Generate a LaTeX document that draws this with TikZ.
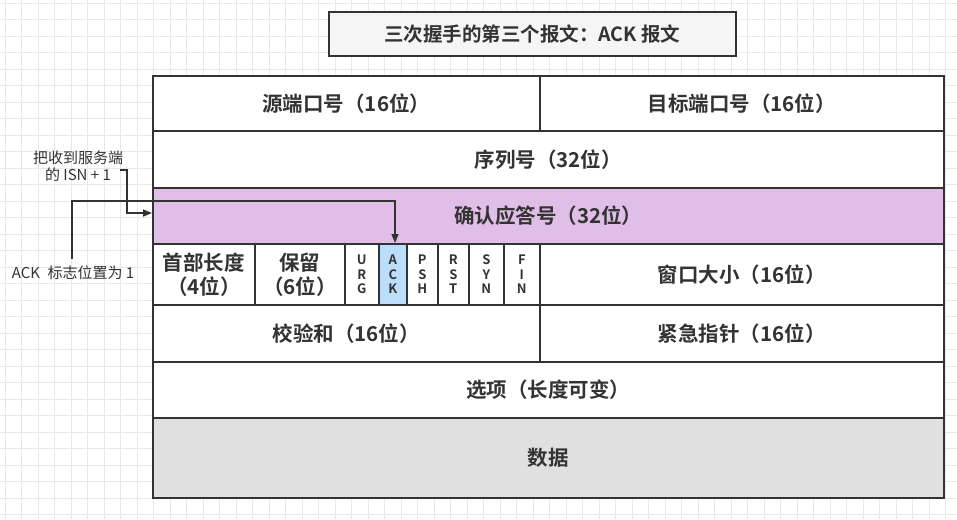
\documentclass[tikz,border=0pt]{standalone}
\usepackage{fontspec}
\setmainfont{Noto Sans CJK SC}[BoldFont={* Bold}]
\usetikzlibrary{arrows.meta}
\definecolor{pur}{HTML}{E1BEE7}
\definecolor{blu}{HTML}{BBDEFB}
\definecolor{dat}{HTML}{E0E0E0}
\definecolor{ttl}{HTML}{F5F5F5}
\definecolor{ink}{HTML}{333333}
\begin{document}
\begin{tikzpicture}[x=1pt,y=-1pt,
 cell/.style={draw=ink,line width=1.6pt,font=\bfseries\fontsize{20.5}{24}\selectfont,text=ink},
 flag/.style={draw=ink,line width=1.6pt,font=\bfseries\fontsize{13}{14.5}\selectfont,text=ink,align=center},
 note/.style={font=\fontsize{15}{17}\selectfont,text=ink,align=center},
 conn/.style={draw=ink,line width=1.6pt,-{Triangle[length=9pt,width=7pt]}}]
\useasboundingbox (0,0) rectangle (957,519);
\fill[white] (0,0) rectangle (957,519);
\foreach \i in {0,...,58} {\draw[black!9] (\i*16.5+5,0) -- (\i*16.5+5,519);}
\foreach \i in {0,...,31} {\draw[black!9] (0,\i*16.5+3) -- (957,\i*16.5+3);}
% title
\node[cell,fill=ttl,minimum width=407,minimum height=44,anchor=north west,font=\bfseries\fontsize{19.5}{22}\selectfont] (title) at (328,11) {三次握手的第三个报文：ACK 报文};
\def\cellat#1#2#3#4#5#6{\node[cell,fill=#6,minimum width=#3-#1,minimum height=#4-#2,anchor=north west,inner sep=0] (#5) at (#1,#2)}
\cellat{152}{75}{539}{130}{src}{white} {源端口号（16位）};
\cellat{539}{75}{943}{130}{dst}{white} {目标端口号（16位）};
\cellat{152}{130}{943}{187}{seq}{white} {序列号（32位）};
\cellat{152}{187}{943}{243}{ack}{pur} {确认应答号（32位）};
\node[cell,fill=white,minimum width=102,minimum height=61,anchor=north west,inner sep=0,align=center] (hl) at (152,243) {首部长度\\（4位）};
\node[cell,fill=white,minimum width=90,minimum height=61,anchor=north west,inner sep=0,align=center] (res) at (254,243) {保留\\（6位）};
\node[flag,fill=white,minimum width=34,minimum height=61,anchor=north west,inner sep=0] (urg) at (344,243) {U\\R\\G};
\node[flag,fill=blu,minimum width=28,minimum height=61,anchor=north west,inner sep=0] (fack) at (378,243) {A\\C\\K};
\node[flag,fill=white,minimum width=31,minimum height=61,anchor=north west,inner sep=0] (psh) at (406,243) {P\\S\\H};
\node[flag,fill=white,minimum width=31,minimum height=61,anchor=north west,inner sep=0] (rst) at (437,243) {R\\S\\T};
\node[flag,fill=white,minimum width=35,minimum height=61,anchor=north west,inner sep=0] (syn) at (468,243) {S\\Y\\N};
\node[flag,fill=white,minimum width=36,minimum height=61,anchor=north west,inner sep=0] (fin) at (503,243) {F\\I\\N};
\cellat{539}{243}{943}{304}{win}{white} {窗口大小（16位）};
\cellat{152}{304}{539}{361}{chk}{white} {校验和（16位）};
\cellat{539}{304}{943}{361}{urgp}{white} {紧急指针（16位）};
\cellat{152}{361}{943}{417}{opt}{white} {选项（长度可变）};
\cellat{152}{417}{943}{497}{data}{dat} {数据};
% notes
\node[note] (n1) at (78,166) {把收到服务端\\的 ISN + 1};
\node[note] (n2) at (73,273) {ACK\enspace 标志位置为 1};
\coordinate (c1) at (120,170);
\coordinate (c2) at (72,259);
\draw[conn] (c1) -- (127,170) |- (ack.west |- 0,213);
\draw[conn] (c2) |- (395,201) -- (395,243);
\end{tikzpicture}
\end{document}
